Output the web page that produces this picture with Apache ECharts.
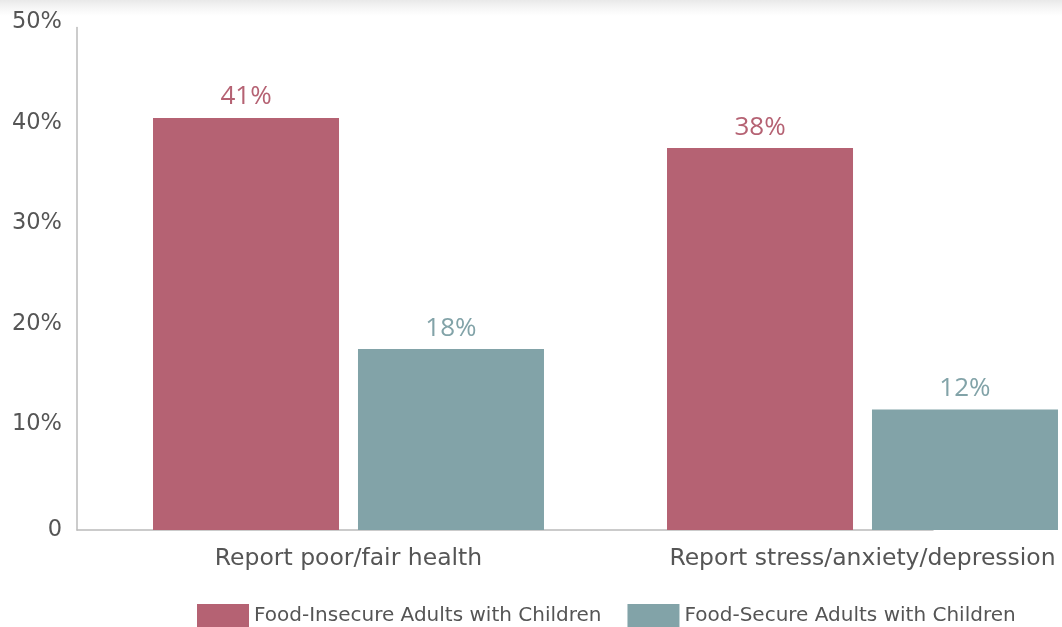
<!DOCTYPE html>
<html>
<head>
<meta charset="utf-8">
<script src="https://cdn.jsdelivr.net/npm/echarts@6/dist/echarts.min.js"></script>
<style>
html,body{margin:0;padding:0;background:#fff;}
#chart{width:1062px;height:627px;background:linear-gradient(to bottom,#e9e9e9 0px,#f6f6f6 8px,#ffffff 16px);}
</style>
</head>
<body>
<div id="chart"></div>
<script>
var categories = ['Report poor/fair health', 'Report stress/anxiety/depression'];
var seriesNames = ['Food-Insecure Adults with Children', 'Food-Secure Adults with Children'];
var insecureValues = [41, 38];
var secureValues = [18, 12];
var yTicks = { min: 0, max: 50, interval: 10 };

var colors = ['#b56273', '#82a3a8'];
var labelFont = 'DejaVu Sans';

var chart = echarts.init(document.getElementById('chart'), null, { renderer: 'canvas' });
chart.setOption({
  animation: false,
  color: colors,
  legend: {
    top: 599,
    left: 192,
    itemWidth: 52,
    itemHeight: 24,
    itemGap: 26,
    icon: 'rect',
    textStyle: { fontFamily: labelFont, fontSize: 20, color: '#555' },
    data: seriesNames
  },
  grid: [
    { left: 77, right: 129, top: 27.5, bottom: 97, containLabel: false },
    { left: 348.5, right: 199.5, top: 27.5, bottom: 97, containLabel: false }
  ],
  xAxis: [
    {
      gridIndex: 0, type: 'value', min: 0, max: 1,
      axisLine: { show: true, onZero: false, lineStyle: { color: '#bbb', width: 1.5 } },
      axisTick: { show: false }, axisLabel: { show: false }, splitLine: { show: false }
    },
    {
      gridIndex: 1, type: 'category', data: categories, boundaryGap: false,
      axisLine: { show: false }, axisTick: { show: false },
      axisLabel: { interval: 0, hideOverlap: false, margin: 17, fontFamily: labelFont, fontSize: 23.5, color: '#555' }
    }
  ],
  yAxis: [
    {
      gridIndex: 0, type: 'value', min: yTicks.min, max: yTicks.max, interval: yTicks.interval,
      axisLine: { show: true, lineStyle: { color: '#bbb', width: 1.5 } },
      axisTick: { show: false }, splitLine: { show: false },
      axisLabel: {
        margin: 15, fontFamily: labelFont, fontSize: 22.5, color: '#555',
        formatter: function (v) { return v === 0 ? '{z|0}' : '{p|' + v + '%}'; },
        rich: {
          z: { fontFamily: labelFont, fontSize: 22.5, color: '#555' },
          p: { fontFamily: labelFont, fontSize: 22.5, color: '#555', padding: [0, 0, 10, 0] }
        }
      }
    },
    {
      gridIndex: 1, type: 'value', min: yTicks.min, max: yTicks.max, interval: yTicks.interval,
      show: false
    }
  ],
  series: [
    {
      name: seriesNames[0], type: 'bar', xAxisIndex: 1, yAxisIndex: 1, clip: false,
      data: insecureValues, barWidth: 186, barGap: '10.2%',
      itemStyle: { color: colors[0] },
      label: { show: true, position: 'top', distance: 8, formatter: '{c}%', fontFamily: 'Open Sans', fontSize: 26, color: colors[0] }
    },
    {
      name: seriesNames[1], type: 'bar', xAxisIndex: 1, yAxisIndex: 1, clip: false,
      data: secureValues, barWidth: 186,
      itemStyle: { color: colors[1] },
      label: { show: true, position: 'top', distance: 8, formatter: '{c}%', fontFamily: 'Open Sans', fontSize: 26, color: colors[1] }
    }
  ]
});
</script>
</body>
</html>
